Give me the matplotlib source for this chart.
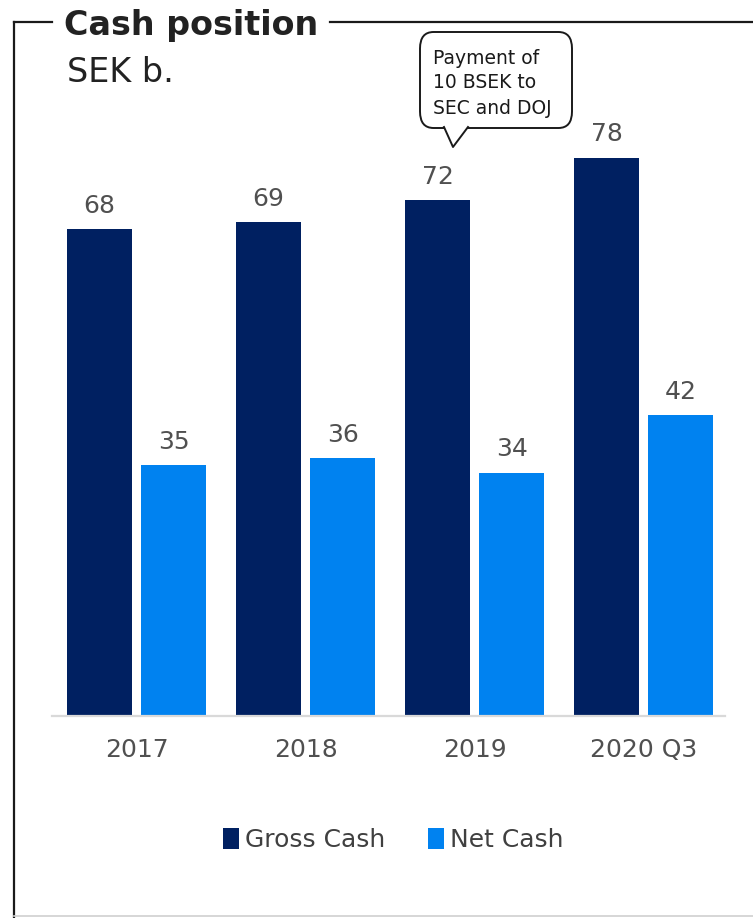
import matplotlib
matplotlib.use("Agg")
import matplotlib.pyplot as plt
import numpy as np
from matplotlib.patches import FancyBboxPatch, Polygon
from matplotlib.lines import Line2D

# chart data (SEK b.)
periods = ["2017", "2018", "2019", "2020 Q3"]
gross_cash = [68, 69, 72, 78]
net_cash = [35, 36, 34, 42]
series_names = ["Gross Cash", "Net Cash"]
callout_lines = ["Payment of", "10 BSEK to", "SEC and DOJ"]

GROSS_COLOR = "#002061"
NET_COLOR = "#0082f0"
TEXT_GREY = "#505050"

W, H = 753, 918
plt.rcParams["font.family"] = ["DejaVu Sans"]

fig = plt.figure(figsize=(W / 100, H / 100), dpi=100)


def px(x, y):
    # pixel position (from top-left) -> figure fraction
    return x / W, 1 - y / H


# plot area
ax_left, ax_right, ax_top, ax_base = 52, 725, 100, 716
ax = fig.add_axes([ax_left / W, 1 - ax_base / H,
                   (ax_right - ax_left) / W, (ax_base - ax_top) / H])

x = np.arange(len(periods))
bar_w = 0.385
off = 0.219
b1 = ax.bar(x - off, gross_cash, bar_w, color=GROSS_COLOR, label=series_names[0])
b2 = ax.bar(x + off, net_cash, bar_w, color=NET_COLOR, label=series_names[1])
for bars in (b1, b2):
    ax.bar_label(bars, padding=8, fontsize=18, color=TEXT_GREY)

ax.set_xlim(-0.5, 3.48)
ax.set_ylim(0, (ax_base - ax_top) / 7.16)
ax.set_xticks(x)
ax.set_xticklabels(periods, fontsize=18, color=TEXT_GREY)
ax.tick_params(axis="x", length=0, pad=16)
ax.set_yticks([])
for side in ("top", "right", "left"):
    ax.spines[side].set_visible(False)
ax.spines["bottom"].set_color("#d9d9d9")
ax.spines["bottom"].set_linewidth(1.6)

leg = fig.legend(handles=[b1, b2], loc="center", bbox_to_anchor=px(393, 840),
                 ncol=2, frameon=False, fontsize=18, handlelength=0.65,
                 handleheight=0.9, handletextpad=0.22, columnspacing=1.72)
for t in leg.get_texts():
    t.set_color("#404040")

# frame around the panel, broken by the title
frame_kw = dict(color="#1a1a1a", linewidth=1.6, transform=fig.transFigure)
fig.add_artist(Line2D(*zip(px(14, 22), px(14, 918)), **frame_kw))
fig.add_artist(Line2D(*zip(px(14, 22), px(52, 22)), **frame_kw))
fig.add_artist(Line2D(*zip(px(330, 22), px(753, 22)), **frame_kw))
fig.add_artist(Line2D(*zip(px(14, 916), px(753, 916)), color="#d0d0d0",
                      linewidth=1.2, transform=fig.transFigure))

fig.text(*px(64, 25), "Cash position", fontsize=24, fontweight="bold",
         color="#222222", va="center", ha="left")
fig.text(*px(67, 73), "SEK b.", fontsize=24, color="#222222",
         va="center", ha="left")

# speech bubble pointing at the 2019 gross bar
bx0, by0, bx1, by1 = 420, 32, 572, 128
bubble = FancyBboxPatch(px(bx0, by1), (bx1 - bx0) / W, (by1 - by0) / H,
                        boxstyle="round,pad=0,rounding_size=0.018",
                        transform=fig.transFigure, facecolor="white",
                        edgecolor="#1a1a1a", linewidth=1.4, zorder=5)
fig.add_artist(bubble)
tip = [px(444, by1 - 1), px(453, 147), px(468, by1 - 1)]
fig.add_artist(Polygon(tip, closed=True, facecolor="white", edgecolor="none",
                       transform=fig.transFigure, zorder=6))
fig.add_artist(Line2D(*zip(tip[0], tip[1], tip[2]), color="#1a1a1a",
                      linewidth=1.4, transform=fig.transFigure, zorder=7))
for i, line in enumerate(callout_lines):
    fig.text(*px(433, 58 + 25 * i), line, fontsize=13.5, color="#1a1a1a",
             va="center", ha="left", zorder=8)

fig.savefig("out.png", dpi=100)
